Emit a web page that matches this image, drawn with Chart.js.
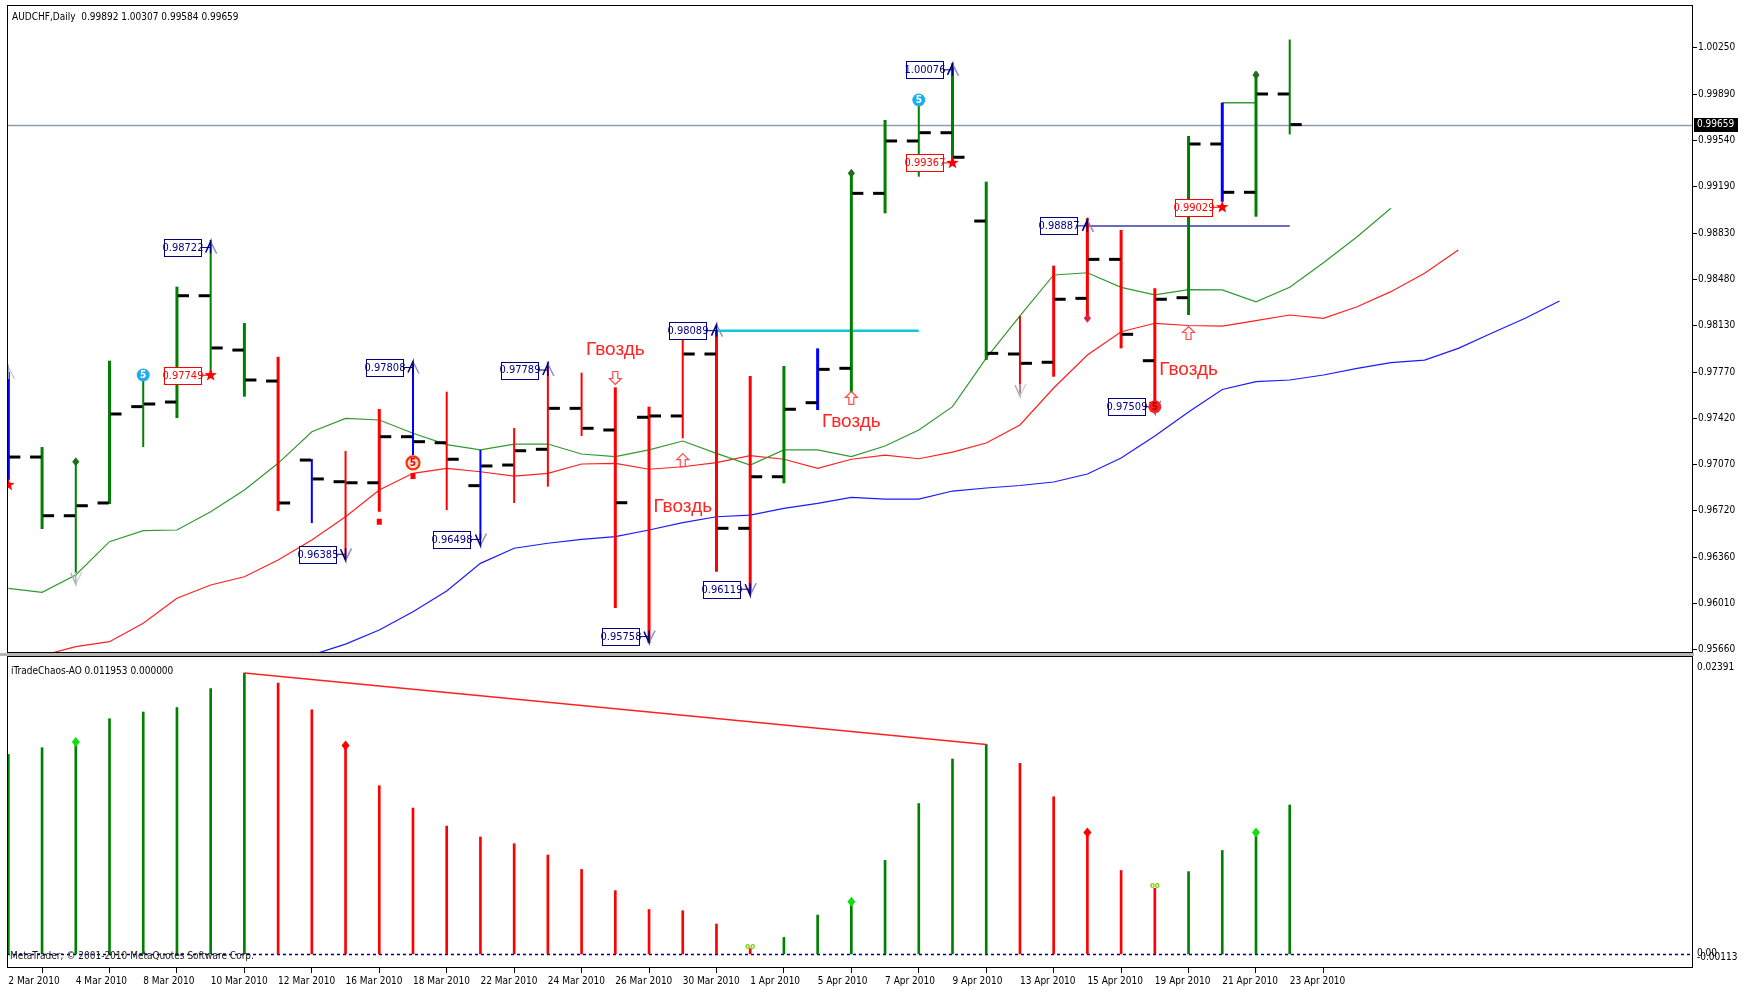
<!DOCTYPE html>
<html>
<head>
<meta charset="utf-8">
<title>AUDCHF Daily</title>
<script src="https://cdn.jsdelivr.net/npm/chart.js@4.4.1/dist/chart.umd.min.js"></script>
<style>
    html, body { margin: 0; padding: 0; background: #fff; }
    #wrap { position: relative; width: 1750px; height: 992px; overflow: hidden; background: #fff; }
    #priceBox { position: absolute; left: 0; top: 0; width: 1750px; height: 656px; }
    #aoBox { position: absolute; left: 0; top: 654px; width: 1750px; height: 338px; }
</style>
</head>
<body>
<div id="wrap">
    <div id="priceBox"><canvas id="price"></canvas></div>
    <div id="aoBox"><canvas id="ao"></canvas></div>
</div>
<script>
/* ================================================================ */
/* AUDCHF Daily bars, Alligator and AO  */
/* ================================================================ */

const dates = ['2 Mar 2010', '3 Mar 2010', '4 Mar 2010', '5 Mar 2010', '8 Mar 2010', '9 Mar 2010',
    '10 Mar 2010', '11 Mar 2010', '12 Mar 2010', '15 Mar 2010', '16 Mar 2010', '17 Mar 2010',
    '18 Mar 2010', '19 Mar 2010', '22 Mar 2010', '23 Mar 2010', '24 Mar 2010', '25 Mar 2010',
    '26 Mar 2010', '29 Mar 2010', '30 Mar 2010', '31 Mar 2010', '1 Apr 2010', '2 Apr 2010',
    '5 Apr 2010', '6 Apr 2010', '7 Apr 2010', '8 Apr 2010', '9 Apr 2010', '12 Apr 2010',
    '13 Apr 2010', '14 Apr 2010', '15 Apr 2010', '16 Apr 2010', '19 Apr 2010', '20 Apr 2010',
    '21 Apr 2010', '22 Apr 2010', '23 Apr 2010'];

const opens = [0.97150, 0.97126, 0.96679, 0.96776, 0.97510, 0.97545, 0.98355, 0.97941, 0.97705, 0.97103,
    0.96938, 0.96930, 0.97281, 0.97235, 0.96908, 0.97065, 0.97185, 0.97497, 0.97332, 0.97429,
    0.97439, 0.97911, 0.96583, 0.96976, 0.97540, 0.97802, 0.99135, 0.99534, 0.99597, 0.98924,
    0.97911, 0.97848, 0.98335, 0.98632, 0.97860, 0.98340, 0.99511, 0.99143, 0.99892];
const highs = [0.97774, 0.97202, 0.97090, 0.97860, 0.97751, 0.98424, 0.98780, 0.98147, 0.97890, 0.97111,
    0.97172, 0.97492, 0.97852, 0.97624, 0.97180, 0.97347, 0.97852, 0.97769, 0.97657, 0.97510,
    0.98060, 0.98095, 0.97743, 0.97820, 0.97954, 0.99288, 0.99694, 0.99871, 1.00126, 0.99224,
    0.98201, 0.98584, 0.98945, 0.98856, 0.98412, 0.99572, 0.99826, 1.00062, 1.00307];
const lows = [0.96951, 0.96578, 0.96242, 0.96768, 0.97202, 0.97423, 0.97751, 0.97586, 0.96715, 0.96623,
    0.96350, 0.96709, 0.97141, 0.96722, 0.96500, 0.96776, 0.96900, 0.97286, 0.95976, 0.95709,
    0.97269, 0.96252, 0.96090, 0.96926, 0.97484, 0.97612, 0.98983, 0.99262, 0.99364, 0.97865,
    0.97612, 0.97738, 0.98183, 0.97954, 0.97510, 0.98208, 0.99071, 0.98957, 0.99584];
const closes = [0.97126, 0.96679, 0.96755, 0.97454, 0.97530, 0.98355, 0.97957, 0.97713, 0.96776, 0.96959,
    0.96930, 0.97281, 0.97243, 0.97109, 0.97058, 0.97174, 0.97497, 0.97345, 0.96778, 0.97439,
    0.97911, 0.96583, 0.96976, 0.97490, 0.97794, 0.99135, 0.99534, 0.99597, 0.99410, 0.97916,
    0.97840, 0.98328, 0.98632, 0.98061, 0.98328, 0.99511, 0.99143, 0.99892, 0.99659];
// bar zone: G = green, R = red, B = blue (squat)
const zones = ['B', 'G', 'G', 'G', 'G', 'G', 'G', 'G', 'R', 'B', 'R', 'R', 'B', 'R', 'B', 'R', 'R', 'R', 'R', 'R',
    'R', 'R', 'R', 'G', 'B', 'G', 'G', 'G', 'G', 'G', 'R', 'R', 'R', 'R', 'R', 'G', 'B', 'G', 'G'];

// Alligator lines (already shifted forward), first bar index for each
const lipsStart = 0;
const lips = [0.96126, 0.96095, 0.96227, 0.96481, 0.96565, 0.96570, 0.96709, 0.96875, 0.97078, 0.97319,
    0.97421, 0.97408, 0.97307, 0.97221, 0.97180, 0.97225, 0.97225, 0.97149, 0.97129, 0.97180,
    0.97248, 0.97154, 0.97065, 0.97180, 0.97180, 0.97129, 0.97210, 0.97332, 0.97510, 0.97880,
    0.98201, 0.98513, 0.98530, 0.98419, 0.98361, 0.98402, 0.98399, 0.98309, 0.98419, 0.98607,
    0.98805, 0.99021];
const teethStart = 1;
const teeth = [0.95614, 0.95681, 0.95719, 0.95859, 0.96050, 0.96151, 0.96214, 0.96342, 0.96494, 0.96671,
    0.96875, 0.97002, 0.97040, 0.97014, 0.96981, 0.97002, 0.97073, 0.97078, 0.97033, 0.97052,
    0.97083, 0.97136, 0.97109, 0.97040, 0.97109, 0.97141, 0.97113, 0.97164, 0.97233, 0.97370,
    0.97652, 0.97903, 0.98081, 0.98145, 0.98128, 0.98124, 0.98165, 0.98208, 0.98183, 0.98271,
    0.98386, 0.98526, 0.98703];
const jawStart = 9;
const jaw = [0.95618, 0.95701, 0.95808, 0.95948, 0.96105, 0.96316, 0.96431, 0.96469, 0.96499, 0.96519,
    0.96570, 0.96626, 0.96671, 0.96684, 0.96735, 0.96773, 0.96818, 0.96806, 0.96806, 0.96867,
    0.96890, 0.96909, 0.96936, 0.96997, 0.97119, 0.97286, 0.97469, 0.97641, 0.97700, 0.97713,
    0.97751, 0.97802, 0.97845, 0.97865, 0.97954, 0.98071, 0.98185, 0.98315];

const priceTicks = [1.00250, 0.99890, 0.99540, 0.99190, 0.98830, 0.98480, 0.98130, 0.97770,
    0.97420, 0.97070, 0.96720, 0.96360, 0.96010, 0.95660];

// marks on the price chart: bar index + price
const upFractalBars = [6, 12, 16, 21, 28, 32];
const upFractalPrices = [0.98722, 0.97808, 0.97789, 0.98089, 1.00076, 0.98887];
const downFractalBars = [10, 14, 19, 22, 34];
const downFractalPrices = [0.96385, 0.96498, 0.95758, 0.96119, 0.97509];
const fadedUpBars = [0];
const fadedUpPrices = [0.97766];
const fadedDownBars = [2, 30];
const fadedDownPrices = [0.96204, 0.97637];
const starBars = [0, 6, 28, 36];
const starPrices = [0.96913, 0.97749, 0.99367, 0.99029];
const fiveBlueBars = [4, 27];
const fiveBluePrices = [0.97751, 0.99846];
const fiveRingBars = [12];
const fiveRingPrices = [0.97081];
const fiveRedBars = [34];
const fiveRedPrices = [0.97509];
const diamondGreenBars = [2, 25, 37];
const diamondGreenPrices = [0.97090, 0.99288, 1.00037];
const diamondRedBars = [32];
const diamondRedPrices = [0.98183];
const squareBars = [11, 12];
const squarePrices = [0.96633, 0.96981];
const hollowDownBars = [18];
const hollowDownPrices = [0.97728];
const hollowUpBars = [20, 25, 35];
const hollowUpPrices = [0.97103, 0.97576, 0.98071];
const nailBars = [18, 20, 25, 35];
const nailPrices = [0.97941, 0.96745, 0.97393, 0.97789];
const nailText = 'Гвоздь';

// horizontal levels: [from bar, to bar, price]
const cyanLevel = [21, 27, 0.98089];
const navyLevel = [32, 38, 0.98887];
const greenLevel = [36, 37, 0.99826];

// AO histogram
const aoValues = [0.016012, 0.016550, 0.017015, 0.018877, 0.019415, 0.019776, 0.021293, 0.022545,
    0.021742, 0.019591, 0.016726, 0.013500, 0.011710, 0.010265, 0.009382, 0.008845, 0.007938,
    0.006782, 0.005080, 0.003564, 0.003467, 0.002400, 0.000425, 0.001324, 0.003122, 0.004190,
    0.007504, 0.012071, 0.015643, 0.016814, 0.015298, 0.012609, 0.009744, 0.006694, 0.005265,
    0.006605, 0.008307, 0.009744, 0.011953];
const aoMax = 0.02391;
const aoMin = -0.00113;
const aoDivergence = [7, 29];
const aoDiamondGreen = [2, 25, 37];
const aoDiamondRed = [10, 32];
const aoDots = [22, 34];

/* ---------------------------------------------------------------- */

const NARROW = "'Liberation Sans Narrow', 'Arial Narrow', 'DejaVu Sans Condensed', sans-serif";
const TXT = '10px ' + NARROW;
Chart.defaults.font.family = NARROW;
Chart.defaults.font.size = 10;
Chart.defaults.color = '#000';

const X_MIN = -0.04;
const X_MAX = 49.96;
const zoneColor = { G: '#008000', R: '#ff0000', B: '#0000ff' };
const thinBars = [2, 4, 6, 9, 10, 12, 13, 14, 15, 16, 17, 20, 27, 30, 38];
const NAVY = '#000080';
const RED = '#ff0000';

function barPoints(keep) {
    return dates.map((d, i) => i).filter(keep).map(i => ({ x: i, y: [lows[i], highs[i]] }));
}

function seriesPoints(values, start) {
    return values.map((v, k) => ({ x: k + start, y: v }));
}

function levelPoints(level) {
    return [{ x: level[0], y: level[2] }, { x: level[1], y: level[2] }];
}

function barColor(ctx) {
    return ctx.raw ? zoneColor[zones[ctx.raw.x]] : '#000';
}

function fixedAxis(width) {
    return s => {
        s.width = width;
        s.paddingTop = 0;
        s.paddingBottom = 0;
    };
}

/* ---- small drawing helpers for the overlay marks ---- */

function upArrow(ctx, px, py, main, shade) {
    ctx.lineWidth = 1.5;
    ctx.strokeStyle = shade;
    ctx.beginPath(); ctx.moveTo(px, py - 6); ctx.lineTo(px + 6, py + 6); ctx.stroke();
    ctx.strokeStyle = main;
    ctx.beginPath(); ctx.moveTo(px - 5, py + 5); ctx.lineTo(px, py - 6); ctx.lineTo(px, py + 6); ctx.stroke();
}

function downArrow(ctx, px, py, main, shade) {
    ctx.lineWidth = 1.5;
    ctx.strokeStyle = shade;
    ctx.beginPath(); ctx.moveTo(px, py + 6); ctx.lineTo(px + 6, py - 6); ctx.stroke();
    ctx.strokeStyle = main;
    ctx.beginPath(); ctx.moveTo(px - 5, py - 5); ctx.lineTo(px, py + 6); ctx.lineTo(px, py - 6); ctx.stroke();
}

function star(ctx, px, py, r, color) {
    ctx.fillStyle = color;
    ctx.beginPath();
    for (let k = 0; k < 10; k++) {
        const rr = k % 2 ? r * 0.42 : r;
        const ang = -Math.PI / 2 + k * Math.PI / 5;
        const xx = px + rr * Math.cos(ang);
        const yy = py + rr * Math.sin(ang);
        if (k === 0) ctx.moveTo(xx, yy); else ctx.lineTo(xx, yy);
    }
    ctx.closePath();
    ctx.fill();
}

function diamond(ctx, px, py, r, color) {
    ctx.fillStyle = color;
    ctx.beginPath();
    ctx.moveTo(px, py - r); ctx.lineTo(px + r * 0.8, py); ctx.lineTo(px, py + r); ctx.lineTo(px - r * 0.8, py);
    ctx.closePath();
    ctx.fill();
}

function hollowArrow(ctx, px, py, dir, color) {
    const pts = [[0, -6.5], [6, -0.5], [2.5, -0.5], [2.5, 6.5], [-2.5, 6.5], [-2.5, -0.5], [-6, -0.5]];
    ctx.beginPath();
    pts.forEach((p, k) => {
        const xx = px + p[0];
        const yy = py + p[1] * dir;
        if (k === 0) ctx.moveTo(xx, yy); else ctx.lineTo(xx, yy);
    });
    ctx.closePath();
    ctx.fillStyle = '#fff';
    ctx.fill();
    ctx.lineWidth = 1.2;
    ctx.strokeStyle = color;
    ctx.stroke();
}

function fiveCircle(ctx, px, py, fill, ring, textColor) {
    ctx.beginPath();
    ctx.arc(px, py, 6.5, 0, Math.PI * 2);
    ctx.fillStyle = fill;
    ctx.fill();
    if (ring) {
        ctx.lineWidth = 2.2;
        ctx.strokeStyle = ring;
        ctx.stroke();
    }
    ctx.fillStyle = textColor;
    ctx.font = 'bold 10px ' + NARROW;
    ctx.textAlign = 'center';
    ctx.textBaseline = 'middle';
    ctx.fillText('5', px, py + 0.5);
}

function priceBox(ctx, px, py, text, color) {
    const w = 37, h = 17;
    const right = Math.round(px - 10);
    const top = Math.round(py - h / 2);
    ctx.fillStyle = '#fff';
    ctx.fillRect(right - w, top, w, h);
    ctx.lineWidth = 1;
    ctx.strokeStyle = color;
    ctx.strokeRect(right - w + 0.5, top + 0.5, w, h);
    ctx.beginPath();
    ctx.moveTo(right, py); ctx.lineTo(px, py);
    ctx.stroke();
    ctx.fillStyle = color;
    ctx.font = '11px ' + NARROW;
    ctx.textAlign = 'center';
    ctx.textBaseline = 'middle';
    ctx.fillText(text, right - w / 2 + 0.5, py + 0.5);
}

/* ---- price panel overlay ---- */

const priceOverlay = {
    id: 'priceOverlay',
    beforeDatasetsDraw(chart) {
        const { ctx, chartArea: a, scales: { y } } = chart;
        const py = Math.round(y.getPixelForValue(closes[closes.length - 1])) + 0.5;
        ctx.save();
        ctx.strokeStyle = '#8e9eb0';
        ctx.lineWidth = 1.5;
        ctx.beginPath(); ctx.moveTo(a.left, py); ctx.lineTo(a.right, py); ctx.stroke();
        ctx.restore();
    },
    afterDatasetsDraw(chart) {
        const { ctx, chartArea: a, scales: { x, y } } = chart;
        const X = i => x.getPixelForValue(i);
        const Y = p => y.getPixelForValue(p);

        ctx.save();
        ctx.beginPath();
        ctx.rect(a.left, a.top, a.right - a.left, a.bottom - a.top);
        ctx.clip();

        fadedUpBars.forEach((b, k) => upArrow(ctx, X(b), Y(fadedUpPrices[k]), '#9aa4c8', '#c8ccd8'));
        fadedDownBars.forEach((b, k) => downArrow(ctx, X(b), Y(fadedDownPrices[k]), '#a8b0c0', '#d0d4dc'));

        upFractalBars.forEach((b, k) => {
            const p = upFractalPrices[k];
            priceBox(ctx, X(b), Y(p), p.toFixed(5), NAVY);
            upArrow(ctx, X(b), Y(p), NAVY, '#8890c8');
        });
        downFractalBars.forEach((b, k) => {
            const p = downFractalPrices[k];
            priceBox(ctx, X(b), Y(p), p.toFixed(5), NAVY);
            downArrow(ctx, X(b), Y(p), NAVY, '#8890c8');
        });
        starBars.forEach((b, k) => {
            const p = starPrices[k];
            priceBox(ctx, X(b), Y(p), p.toFixed(5), RED);
            star(ctx, X(b), Y(p), 6.5, RED);
        });

        fiveBlueBars.forEach((b, k) => fiveCircle(ctx, X(b), Y(fiveBluePrices[k]), '#1eaef0', null, '#fff'));
        fiveRingBars.forEach((b, k) => fiveCircle(ctx, X(b), Y(fiveRingPrices[k]), '#ffe0d0', '#ff3000', '#e00000'));
        fiveRedBars.forEach((b, k) => fiveCircle(ctx, X(b), Y(fiveRedPrices[k]), '#ff2020', null, '#b00000'));

        diamondGreenBars.forEach((b, k) => diamond(ctx, X(b), Y(diamondGreenPrices[k]), 4.5, '#1e6e1e'));
        diamondRedBars.forEach((b, k) => diamond(ctx, X(b), Y(diamondRedPrices[k]), 4.5, '#e0204a'));
        squareBars.forEach((b, k) => {
            ctx.fillStyle = RED;
            ctx.fillRect(X(b) - 2.5, Y(squarePrices[k]) - 3, 5, 6);
        });

        hollowDownBars.forEach((b, k) => hollowArrow(ctx, X(b), Y(hollowDownPrices[k]), -1, '#ff4a4a'));
        hollowUpBars.forEach((b, k) => hollowArrow(ctx, X(b), Y(hollowUpPrices[k]), 1, '#ff4a4a'));

        ctx.fillStyle = '#ff2424';
        ctx.font = "19px 'Liberation Sans', Arial, sans-serif";
        ctx.textAlign = 'center';
        ctx.textBaseline = 'middle';
        nailBars.forEach((b, k) => ctx.fillText(nailText, X(b), Y(nailPrices[k])));
        ctx.restore();

        // frame and the strip between the panels
        ctx.save();
        ctx.fillStyle = '#b4b4b4';
        ctx.fillRect(0, a.bottom, a.right + 1, chart.height - a.bottom);
        ctx.strokeStyle = '#000';
        ctx.lineWidth = 1;
        ctx.strokeRect(a.left + 0.5, a.top + 0.5, a.right - a.left - 1, a.bottom - a.top - 1);

        // header
        const last = closes.length - 1;
        ctx.fillStyle = '#000';
        ctx.font = TXT;
        ctx.textAlign = 'left';
        ctx.textBaseline = 'middle';
        ctx.fillText('AUDCHF,Daily  ' + [opens[last], highs[last], lows[last], closes[last]].map(v => v.toFixed(5)).join(' '),
            a.left + 5, a.top + 12);

        // current price tag on the axis
        const cy = Y(closes[last]);
        ctx.fillStyle = '#000';
        ctx.fillRect(a.right + 1, Math.round(cy) - 7, 44, 14);
        ctx.fillStyle = '#fff';
        ctx.fillText(closes[last].toFixed(5), a.right + 4, cy);
        ctx.restore();
    }
};

/* ---- AO panel overlay ---- */

const aoOverlay = {
    id: 'aoOverlay',
    beforeDatasetsDraw(chart) {
        const { ctx, chartArea: a, scales: { y } } = chart;
        const zy = Math.round(y.getPixelForValue(0)) + 0.5;
        ctx.save();
        ctx.strokeStyle = NAVY;
        ctx.lineWidth = 1.5;
        ctx.setLineDash([3, 3]);
        ctx.beginPath(); ctx.moveTo(a.left, zy); ctx.lineTo(a.right, zy); ctx.stroke();
        ctx.restore();
    },
    afterDatasetsDraw(chart) {
        const { ctx, chartArea: a, scales: { x, y } } = chart;
        const X = i => x.getPixelForValue(i);
        const Y = v => y.getPixelForValue(v);
        ctx.save();
        aoDiamondGreen.forEach(i => diamond(ctx, X(i), Y(aoValues[i]), 5, '#10e010'));
        aoDiamondRed.forEach(i => diamond(ctx, X(i), Y(aoValues[i]), 5, '#ff0000'));
        ctx.fillStyle = '#7ad000';
        ctx.font = 'bold 8px ' + NARROW;
        ctx.textAlign = 'center';
        ctx.textBaseline = 'middle';
        aoDots.forEach(i => ctx.fillText('oo', X(i), Y(aoValues[i]) - 2));

        ctx.strokeStyle = '#000';
        ctx.lineWidth = 1;
        ctx.strokeRect(a.left + 0.5, a.top + 0.5, a.right - a.left - 1, a.bottom - a.top - 1);

        ctx.fillStyle = '#000';
        ctx.font = TXT;
        ctx.textAlign = 'left';
        ctx.fillText('iTradeChaos-AO ' + aoValues[aoValues.length - 1].toFixed(6) + ' 0.000000', a.left + 4, a.top + 15);
        ctx.fillStyle = '#202020';
        ctx.fillText('MetaTrader; \u00a9 2001-2010 MetaQuotes Software Corp.', a.left + 3, Y(0) + 2);

        // axis values (max at the top, zero, min at the bottom)
        ctx.fillStyle = '#000';
        ctx.fillText(aoMax.toFixed(5), a.right + 4, a.top + 11);
        ctx.fillText(aoMin.toFixed(5), a.right + 4, Y(0) + 3);
        ctx.fillText('0.00', a.right + 4, Y(0) - 1);
        ctx.restore();
    }
};

/* ---- charts ---- */

const commonOptions = {
    responsive: true,
    maintainAspectRatio: false,
    animation: false,
    devicePixelRatio: 1,
    events: [],
    plugins: { legend: { display: false }, tooltip: { enabled: false } }
};

new Chart(document.getElementById('price'), {
    type: 'bar',
    data: {
        datasets: [
            {
                type: 'line', label: 'Open/Close',
                data: opens.map((v, i) => ({ x: i - 0.19, y: v })).concat(closes.map((v, i) => ({ x: i + 0.19, y: v }))),
                showLine: false, pointStyle: 'line', pointRadius: 5.6, pointBorderWidth: 3,
                pointBorderColor: '#000', pointBackgroundColor: '#000', order: 0
            },
            {
                label: 'Bars', data: barPoints(i => !thinBars.includes(i)),
                grouped: false, maxBarThickness: 3, borderWidth: 0, backgroundColor: barColor, order: 1
            },
            {
                label: 'Bars thin', data: barPoints(i => thinBars.includes(i)),
                grouped: false, maxBarThickness: 2, borderWidth: 0, backgroundColor: barColor, order: 1
            },
            { type: 'line', label: 'Lips', data: seriesPoints(lips, lipsStart), borderColor: '#2f9a2f', borderWidth: 1.2, pointRadius: 0, order: 5 },
            { type: 'line', label: 'Teeth', data: seriesPoints(teeth, teethStart), borderColor: '#ff2020', borderWidth: 1.2, pointRadius: 0, order: 5 },
            { type: 'line', label: 'Jaw', data: seriesPoints(jaw, jawStart), borderColor: '#1a1aff', borderWidth: 1.2, pointRadius: 0, order: 5 },
            { type: 'line', label: 'Cyan level', data: levelPoints(cyanLevel), borderColor: '#10c8d8', borderWidth: 2.5, pointRadius: 0, order: 4 },
            { type: 'line', label: 'Navy level', data: levelPoints(navyLevel), borderColor: '#3838a8', borderWidth: 1.5, pointRadius: 0, order: 4 },
            { type: 'line', label: 'Green level', data: levelPoints(greenLevel), borderColor: '#3a9a3a', borderWidth: 1.5, pointRadius: 0, order: 4 }
        ]
    },
    options: {
        ...commonOptions,
        layout: { autoPadding: false, padding: { left: 7, top: 5, right: 0, bottom: 3 } },
        scales: {
            x: { type: 'linear', display: false, min: X_MIN, max: X_MAX, offset: false },
            y: {
                type: 'linear', position: 'right', min: 0.95633, max: 1.00570,
                afterBuildTicks: s => { s.ticks = priceTicks.map(v => ({ value: v })); },
                afterFit: fixedAxis(57),
                grid: { drawOnChartArea: false, tickLength: 4, color: '#000' },
                border: { display: false },
                ticks: { padding: 1, callback: v => v.toFixed(5) }
            }
        }
    },
    plugins: [priceOverlay]
});

new Chart(document.getElementById('ao'), {
    type: 'bar',
    data: {
        datasets: [
            {
                label: 'AO', data: aoValues.map((v, i) => ({ x: i, y: v })),
                barThickness: 2, borderWidth: 0,
                backgroundColor: ctx => {
                    const i = ctx.dataIndex;
                    return (i > 0 && aoValues[i] < aoValues[i - 1]) ? '#ff0000' : '#008000';
                },
                order: 1
            },
            {
                type: 'line', label: 'Divergence',
                data: aoDivergence.map(i => ({ x: i, y: aoValues[i] })),
                borderColor: '#ff2020', borderWidth: 1.5, pointRadius: 0, order: 0
            }
        ]
    },
    options: {
        ...commonOptions,
        layout: { autoPadding: false, padding: { left: 7, top: 2, right: 0, bottom: 0 } },
        scales: {
            x: {
                type: 'linear', min: X_MIN, max: X_MAX, offset: false,
                afterBuildTicks: s => {
                    s.ticks = dates.map((d, i) => i).filter(i => i % 2 === 0).map(v => ({ value: v }));
                },
                afterFit: s => { s.height = 24; },
                grid: { drawOnChartArea: false, tickLength: 5, color: '#000' },
                border: { display: false },
                ticks: { align: 'start', padding: 2, maxRotation: 0, minRotation: 0, autoSkip: false, callback: v => dates[v] }
            },
            y: {
                type: 'linear', position: 'right', min: aoMin, max: aoMax,
                afterFit: fixedAxis(57),
                grid: { display: false },
                border: { display: false },
                ticks: { display: false }
            }
        }
    },
    plugins: [aoOverlay]
});
</script>
</body>
</html>
